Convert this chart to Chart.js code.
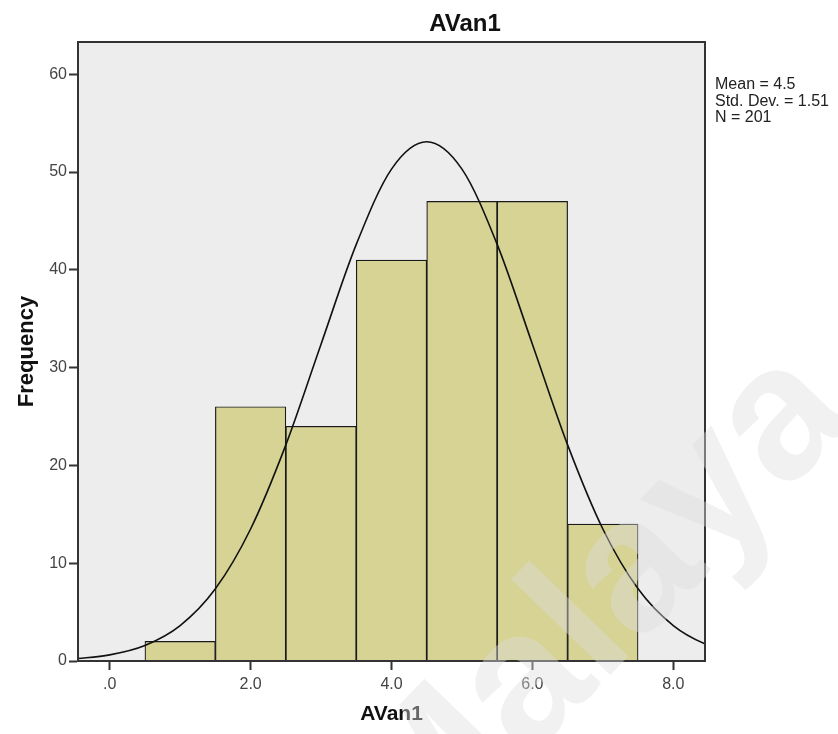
<!DOCTYPE html>
<html>
<head>
<meta charset="utf-8">
<title>AVan1</title>
<script src="https://cdn.jsdelivr.net/npm/chart.js@4.4.1/dist/chart.umd.min.js"></script>
<style>
  body { margin: 0; background: #fff; }
  canvas { display: block; }
</style>
</head>
<body>
<canvas id="histChart" width="838" height="734"></canvas>
<script>
// histogram bins (unit width, centred on whole numbers)
var binCenters = [1, 2, 3, 4, 5, 6, 7];
var frequencies = [2, 26, 24, 41, 47, 47, 14];

// fitted normal curve, read at half-unit steps
var curveX = [-0.5, 0, 0.5, 1, 1.5, 2, 2.5, 3, 3.5, 4, 4.5, 5, 5.5, 6, 6.5, 7, 7.5, 8, 8.5, 9];
var curveY = [0.22, 0.63, 1.59, 3.62, 7.38, 13.5, 22.1, 32.4, 42.6, 50.3, 53.1, 50.3, 42.6, 32.4, 22.1, 13.5, 7.38, 3.62, 1.59, 0.63];

var xTicks = [0, 2, 4, 6, 8];
var xTickLabels = ['.0', '2.0', '4.0', '6.0', '8.0'];
var yTicks = [0, 10, 20, 30, 40, 50, 60];

var chartTitle = 'AVan1';
var statsLines = ['Mean = 4.5', 'Std. Dev. = 1.51', 'N = 201'];
var watermark = 'Malaya';

var FONT = '"Liberation Sans", Arial, sans-serif';

var histPlugin = {
    id: 'histExtras',
    beforeDatasetsDraw: function (chart) {
        var a = chart.chartArea, ctx = chart.ctx;
        ctx.save();
        ctx.fillStyle = '#ededed';
        ctx.fillRect(a.left, a.top, a.right - a.left, a.bottom - a.top);
        ctx.restore();
    },
    afterDatasetsDraw: function (chart) {
        var a = chart.chartArea, ctx = chart.ctx;
        ctx.save();
        ctx.strokeStyle = '#333';
        ctx.lineWidth = 2;
        ctx.strokeRect(a.left, a.top, a.right - a.left, a.bottom - a.top);
        ctx.restore();
    },
    afterDraw: function (chart) {
        var ctx = chart.ctx;
        ctx.save();
        ctx.fillStyle = '#111';
        ctx.textAlign = 'center';
        ctx.textBaseline = 'middle';
        ctx.font = 'bold 24px ' + FONT;
        ctx.fillText(chartTitle, 465, 24);

        ctx.textAlign = 'left';
        ctx.textBaseline = 'alphabetic';
        ctx.font = '16px ' + FONT;
        ctx.fillStyle = '#222';
        statsLines.forEach(function (line, i) {
            ctx.fillText(line, 715, 89 + i * 16.5);
        });

        // faint diagonal watermark
        ctx.translate(600, 610);
        ctx.rotate(-46 * Math.PI / 180);
        ctx.font = 'bold 190px ' + FONT;
        ctx.textAlign = 'center';
        ctx.textBaseline = 'middle';
        ctx.fillStyle = 'rgba(222,222,222,0.42)';
        ctx.fillText(watermark, 0, 0);
        ctx.restore();
    }
};

var barData = binCenters.map(function (x, i) { return { x: x, y: frequencies[i] }; });
var curveData = curveX.map(function (x, i) { return { x: x, y: curveY[i] }; });

var ctx = document.getElementById('histChart');
var histChart = new Chart(ctx, {
    type: 'bar',
    data: {
        datasets: [{
            type: 'line',
            data: curveData,
            borderColor: '#111',
            borderWidth: 1.6,
            pointRadius: 0,
            fill: false,
            cubicInterpolationMode: 'monotone',
            order: 0
        }, {
            type: 'bar',
            data: barData,
            backgroundColor: 'rgb(214,211,148)',
            borderColor: '#1a1a1a',
            borderWidth: 1.2,
            barPercentage: 1,
            categoryPercentage: 1,
            order: 1
        }]
    },
    plugins: [histPlugin],
    options: {
        responsive: false,
        animation: false,
        devicePixelRatio: 1,
        layout: { padding: { top: 42, right: 133, left: 0, bottom: 0 } },
        plugins: {
            legend: { display: false },
            tooltip: { enabled: false }
        },
        scales: {
            x: {
                type: 'linear',
                min: -0.45,
                max: 8.45,
                offset: false,
                afterBuildTicks: function (scale) {
                    scale.ticks = xTicks.map(function (v) { return { value: v }; });
                },
                afterFit: function (scale) { scale.height = 73; },
                ticks: {
                    color: '#444',
                    font: { family: FONT, size: 16 },
                    padding: 5,
                    maxRotation: 0,
                    callback: function (value) {
                        return xTickLabels[xTicks.indexOf(value)];
                    }
                },
                grid: {
                    offset: false,
                    drawOnChartArea: false,
                    drawTicks: true,
                    tickLength: 9,
                    tickWidth: 2,
                    tickColor: '#333'
                },
                border: { display: true, color: '#333', width: 2 },
                title: {
                    display: true,
                    text: 'AVan1',
                    color: '#111',
                    font: { family: FONT, size: 21, weight: 'bold' },
                    padding: { top: 0, bottom: 7 }
                }
            },
            y: {
                min: 0,
                max: 63.3,
                afterBuildTicks: function (scale) {
                    scale.ticks = yTicks.map(function (v) { return { value: v }; });
                },
                afterFit: function (scale) { scale.width = 78; },
                ticks: {
                    color: '#444',
                    font: { family: FONT, size: 16 },
                    padding: 2
                },
                grid: {
                    drawOnChartArea: false,
                    drawTicks: true,
                    tickLength: 9,
                    tickWidth: 2,
                    tickColor: '#333'
                },
                border: { display: true, color: '#333', width: 2 },
                title: {
                    display: true,
                    text: 'Frequency',
                    color: '#111',
                    font: { family: FONT, size: 22, weight: 'bold' },
                    padding: { top: 14, bottom: 0 }
                }
            }
        }
    }
});
</script>
</body>
</html>
